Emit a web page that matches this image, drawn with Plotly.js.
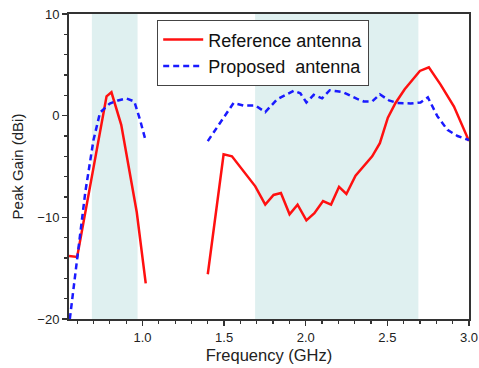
<!DOCTYPE html>
<html>
<head>
<meta charset="utf-8">
<script src="https://cdn.plot.ly/plotly-3.0.1.min.js"></script>
<style>html,body{margin:0;padding:0;background:#fff;}#chart{width:479px;height:368px;}</style>
</head>
<body>
<div id="chart"></div>
<script>
// Reference antenna (null = gap between measured bands)
const refFreq = [0.55, 0.60, 0.78, 0.81, 0.87, 0.965, 1.02, null,
  1.40, 1.497, 1.548, 1.609, 1.691, 1.752, 1.803, 1.848, 1.901, 1.95, 2.004, 2.053, 2.106, 2.155, 2.204, 2.249, 2.305, 2.407, 2.454, 2.503, 2.55, 2.606, 2.699, 2.754, 2.826, 2.908, 3.0];
const refGain = [-13.8, -13.9, 1.9, 2.3, -0.9, -9.5, -16.5, null,
  -15.6, -3.8, -4.0, -5.3, -6.95, -8.75, -7.8, -7.6, -9.7, -8.75, -10.3, -9.6, -8.4, -8.75, -7.0, -7.7, -5.9, -4.0, -2.7, -0.2, 1.25, 2.6, 4.4, 4.75, 3.05, 0.9, -2.5];

// Proposed antenna
const propFreq = [0.555, 0.60, 0.65, 0.70, 0.74, 0.80, 0.85, 0.90, 0.95, 0.985, 1.02, null,
  1.40, 1.486, 1.558, 1.619, 1.691, 1.752, 1.824, 1.926, 1.967, 2.004, 2.049, 2.10, 2.147, 2.192, 2.23, 2.315, 2.355, 2.407, 2.454, 2.51, 2.56, 2.642, 2.703, 2.748, 2.806, 2.868, 2.93, 3.0];
const propGain = [-20, -14, -7.5, -2.4, 0.3, 1.2, 1.5, 1.7, 1.4, -0.4, -2.5, null,
  -2.5, -0.4, 1.25, 1.0, 1.0, 0.35, 1.6, 2.45, 2.2, 1.3, 2.05, 1.7, 2.5, 2.4, 2.3, 1.65, 1.4, 1.4, 2.1, 1.5, 1.25, 1.2, 1.3, 1.8, -0.05, -1.4, -2.0, -2.4];

// Shaded operating bands (GHz)
const bandStart = [0.69, 1.69];
const bandEnd = [0.97, 2.69];

const seriesNames = ["Reference antenna", "Proposed\u00a0 antenna"];

const traces = [
  {x: refFreq, y: refGain, name: seriesNames[0], mode: "lines", connectgaps: false,
   line: {color: "#ff1010", width: 2.5}},
  {x: propFreq, y: propGain, name: seriesNames[1], mode: "lines", connectgaps: false,
   line: {color: "#1a1aff", width: 2.5, dash: "6px,4px"}}
];

const shapes = bandStart.map((s, i) => ({
  type: "rect", xref: "x", yref: "paper", x0: s, x1: bandEnd[i], y0: 0, y1: 1,
  fillcolor: "#dff0f0", line: {width: 0}, layer: "below"
}));

const axisCommon = {
  showline: true, linecolor: "#333", linewidth: 2, mirror: true,
  ticks: "outside", ticklen: 5, tickwidth: 1.5, tickcolor: "#333",
  showgrid: false, zeroline: false,
  tickfont: {family: "Liberation Sans, Arial, sans-serif", size: 13, color: "#222"}
};

const layout = {
  width: 479, height: 368,
  margin: {l: 69, r: 10, t: 14, b: 49},
  paper_bgcolor: "#fff", plot_bgcolor: "rgba(0,0,0,0)",
  showlegend: true,
  legend: {x: 0.22, y: 0.98, xanchor: "left", yanchor: "top",
    bgcolor: "#fff", bordercolor: "#444", borderwidth: 1.2,
    font: {family: "Liberation Sans, Arial, sans-serif", size: 18, color: "#111"},
    itemwidth: 40, tracegroupgap: 0},
  xaxis: Object.assign({}, axisCommon, {
    range: [0.55, 3.0], tick0: 0, dtick: 0.5, tickformat: ".1f",
    minor: {dtick: 0.1, ticks: "outside", ticklen: 3, tickcolor: "#333", tickwidth: 1.2},
    title: {text: "Frequency (GHz)", font: {family: "Liberation Sans, Arial, sans-serif", size: 16.5, color: "#222"}, standoff: 6}
  }),
  yaxis: Object.assign({}, axisCommon, {
    range: [-20, 10], dtick: 10,
    minor: {dtick: 2, ticks: "outside", ticklen: 3, tickcolor: "#333", tickwidth: 1.2},
    title: {text: "Peak Gain (dBi)", font: {family: "Liberation Sans, Arial, sans-serif", size: 15, color: "#222"}, standoff: 10}
  }),
  shapes: shapes
};

Plotly.newPlot("chart", traces, layout, {staticPlot: true, displayModeBar: false});
</script>
</body>
</html>
